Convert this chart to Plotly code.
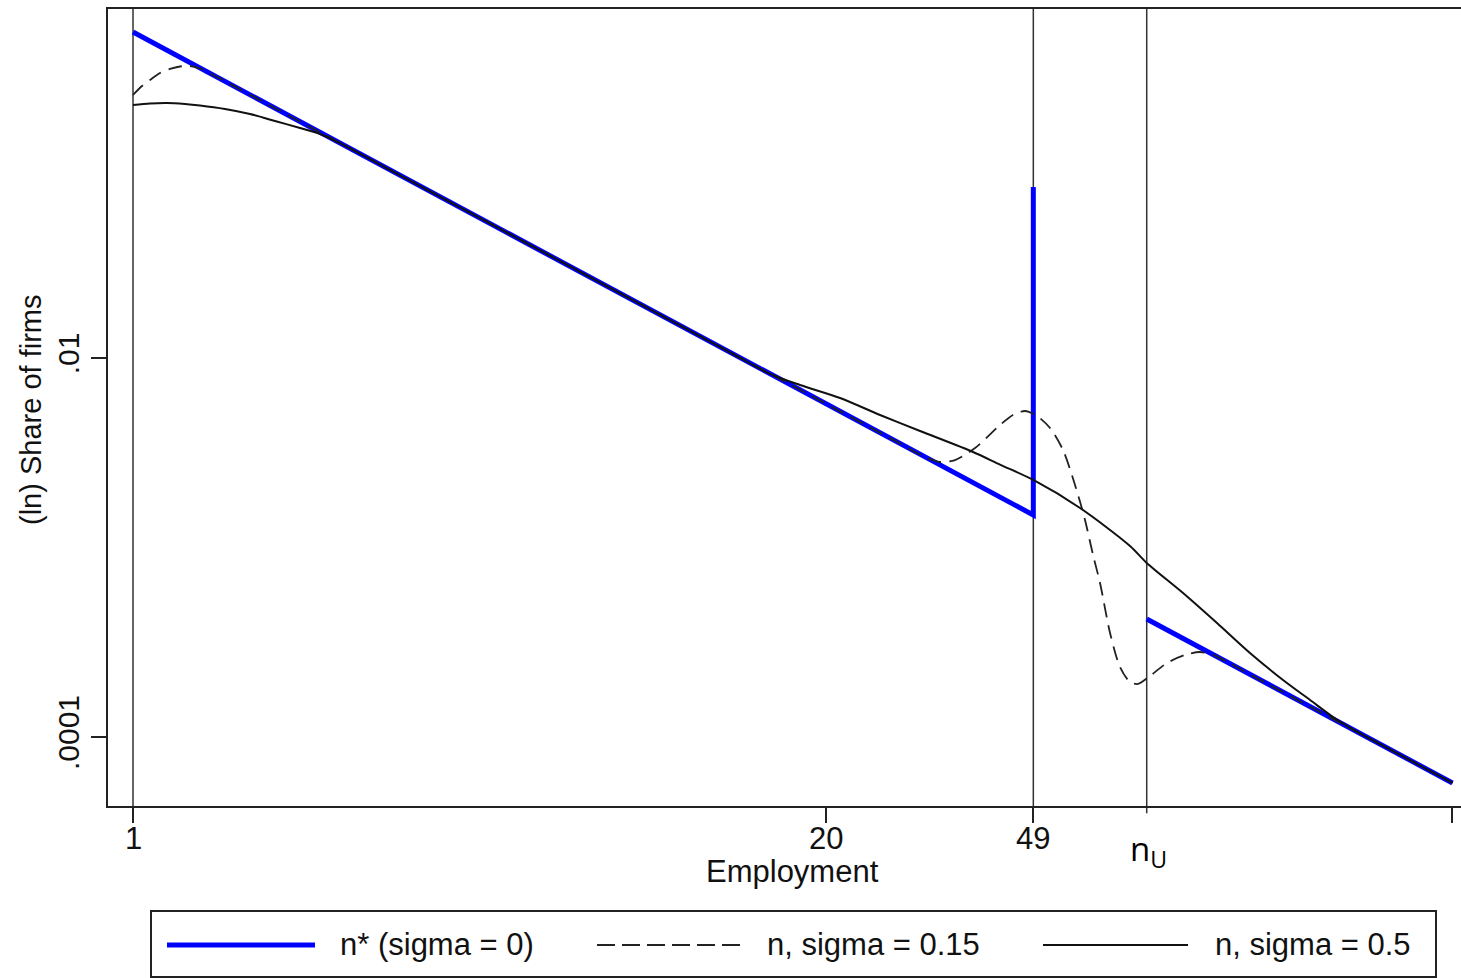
import math

import plotly.graph_objects as go

# Employment thresholds
threshold_49 = 49
n_upper = 80
x_tick_vals = [1, 20, 49, 300]
x_tick_text = ["1", "20", "49", ""]
y_tick_vals = [0.01, 0.0001]
y_tick_text = [".01", ".0001"]

# n* (sigma = 0): frictionless size distribution with bunching spike at 49
n_star = [1, 49, 49, None, 80, 300]
share_star = [0.5253, 0.001484, 0.07985, None, 0.0004194, 0.0000572]

# n, sigma = 0.15
n_s015 = [1, 1.0397, 1.0763, 1.1238, 1.1734, 1.2253, 1.2794, 1.3359, 1.4254, 1.6,
          27.0, 30.68, 32.74, 34.93, 38.09, 42.43, 44.88, 47.27, 49.8, 52.67, 55.71,
          58.68, 61.27, 63.43, 65.38, 68.27, 71.28, 74.43, 77.05, 81.15, 87.35,
          94.4, 100.7, 106.6, 114.7, 125.0, 300]
share_s015 = [0.2445, 0.2725, 0.2931, 0.3192, 0.3351, 0.3454, 0.3475, 0.3371, 0.3079,
              0.2586, 0.003647, 0.003003, 0.002826, 0.002894, 0.003350, 0.004430,
              0.005003, 0.005252, 0.004942, 0.004272, 0.003268, 0.002137, 0.001397,
              0.000913, 0.000650, 0.000354, 0.000234, 0.000195, 0.0001905, 0.000210,
              0.0002458, 0.0002709, 0.0002809, 0.0002709, 0.0002443, 0.0002140,
              0.0000572]

# n, sigma = 0.5
n_s05 = [1, 1.0763, 1.1583, 1.2521, 1.3359, 1.4884, 1.6583, 1.8476, 2.0584, 2.2443,
         2.4469, 3.0, 13.0, 15.70, 17.87, 21.25, 25.26, 30.03, 37.76, 42.43, 49,
         59.96, 74.43, 80, 93.6, 108.4, 125.0, 144.2, 162.1, 179.0, 192.7, 210.0, 300]
share_s05 = [0.2163, 0.2203, 0.2216, 0.2189, 0.2150, 0.2061, 0.1939, 0.1781, 0.1636,
             0.1521, 0.1361, 0.1002, 0.01098, 0.008242, 0.007204, 0.006151, 0.005003,
             0.004119, 0.003192, 0.002739, 0.002271, 0.001616, 0.001018, 0.0008284,
             0.0005753, 0.0003995, 0.0002775, 0.0001999, 0.0001567, 0.0001275,
             0.0001118, 0.0000979, 0.0000572]

legend_labels = ["n* (sigma = 0)", "n, sigma = 0.15", "n, sigma = 0.5"]

W, H = 1461, 978
L, R, T, B = 108, 1461, 9, 806
FONT = "Liberation Sans, Arial, sans-serif"


def px(x):
    return (x - L) / (R - L)


def py(y):
    return (B - y) / (B - T)


fig = go.Figure()

fig.add_trace(go.Scatter(x=n_star, y=share_star, mode="lines",
                         line=dict(color="#0000FF", width=5), name=legend_labels[0]))
fig.add_trace(go.Scatter(x=n_s015, y=share_s015, mode="lines",
                         line=dict(color="#222222", width=1.8, dash="14px,8px",
                                   shape="spline", smoothing=0.8),
                         name=legend_labels[1]))
fig.add_trace(go.Scatter(x=n_s05, y=share_s05, mode="lines",
                         line=dict(color="#111111", width=2, shape="spline",
                                   smoothing=0.8),
                         name=legend_labels[2]))

shapes = []
# reference lines at 1, 49 and n_U
for xv, y0 in [(1, 0), (threshold_49, 0), (n_upper, -0.009)]:
    shapes.append(dict(type="line", xref="x", yref="paper", x0=xv, x1=xv, y0=y0, y1=1,
                       line=dict(color="#333333", width=1.5), layer="below"))

# legend box with line samples
shapes.append(dict(type="rect", xref="paper", yref="paper",
                   x0=px(151), x1=px(1436), y0=py(977), y1=py(911),
                   line=dict(color="#222222", width=2), fillcolor="rgba(0,0,0,0)"))
ly = py(945)
shapes.append(dict(type="line", xref="paper", yref="paper", x0=px(167), x1=px(315),
                   y0=ly, y1=ly, line=dict(color="#0000FF", width=5)))
shapes.append(dict(type="line", xref="paper", yref="paper", x0=px(597), x1=px(742),
                   y0=ly, y1=ly, line=dict(color="#222222", width=1.8, dash="18px,7px")))
shapes.append(dict(type="line", xref="paper", yref="paper", x0=px(1043), x1=px(1188),
                   y0=ly, y1=ly, line=dict(color="#111111", width=2)))

annotations = []
for xs, txt in [(338, legend_labels[0]), (765, legend_labels[1]), (1213, legend_labels[2])]:
    annotations.append(dict(xref="paper", yref="paper", x=px(xs), y=ly, text=txt,
                            showarrow=False, xanchor="left", yanchor="middle",
                            font=dict(family=FONT, size=31, color="#111111")))

# x tick labels, set just below the tick marks
for xv, txt in zip(x_tick_vals, x_tick_text):
    if txt:
        annotations.append(dict(xref="x", yref="paper", x=math.log10(xv),
                                y=py(838), text=txt, showarrow=False, xanchor="center",
                                yanchor="middle",
                                font=dict(family=FONT, size=31, color="#111111")))

annotations.append(dict(xref="paper", yref="paper", x=px(793), y=py(871),
                        text="Employment", showarrow=False, xanchor="center",
                        yanchor="middle", font=dict(family=FONT, size=31, color="#111111")))
annotations.append(dict(xref="paper", yref="paper", x=px(31), y=py(410),
                        text="(ln) Share of firms", showarrow=False, textangle=-90,
                        xanchor="center", yanchor="middle",
                        font=dict(family=FONT, size=29, color="#111111")))
annotations.append(dict(xref="paper", yref="paper", x=px(1148), y=py(850),
                        text="n<sub>U</sub>", showarrow=False, xanchor="center",
                        yanchor="middle", font=dict(family="Open Sans, sans-serif",
                                                    size=33, color="#000000")))

fig.update_layout(
    width=W, height=H,
    margin=dict(l=L, r=W - R, t=T, b=H - B, pad=0),
    paper_bgcolor="white", plot_bgcolor="white",
    showlegend=False,
    shapes=shapes, annotations=annotations,
    xaxis=dict(type="log", range=[-0.04693, 2.4931], tickvals=x_tick_vals,
               ticks="outside", ticklen=15, tickwidth=2, showticklabels=False,
               tickcolor="#222222", showline=True, linecolor="#222222", linewidth=2,
               mirror=True, showgrid=False, zeroline=False),
    yaxis=dict(type="log", range=[-4.3642, -0.1583], tickvals=y_tick_vals,
               ticktext=y_tick_text, ticks="outside", ticklen=15, tickwidth=2,
               tickcolor="#222222", showline=True, linecolor="#222222", linewidth=2,
               showgrid=False, zeroline=False, tickangle=-90,
               tickfont=dict(family=FONT, size=30, color="#111111")),
)

fig.write_html("out.html")
